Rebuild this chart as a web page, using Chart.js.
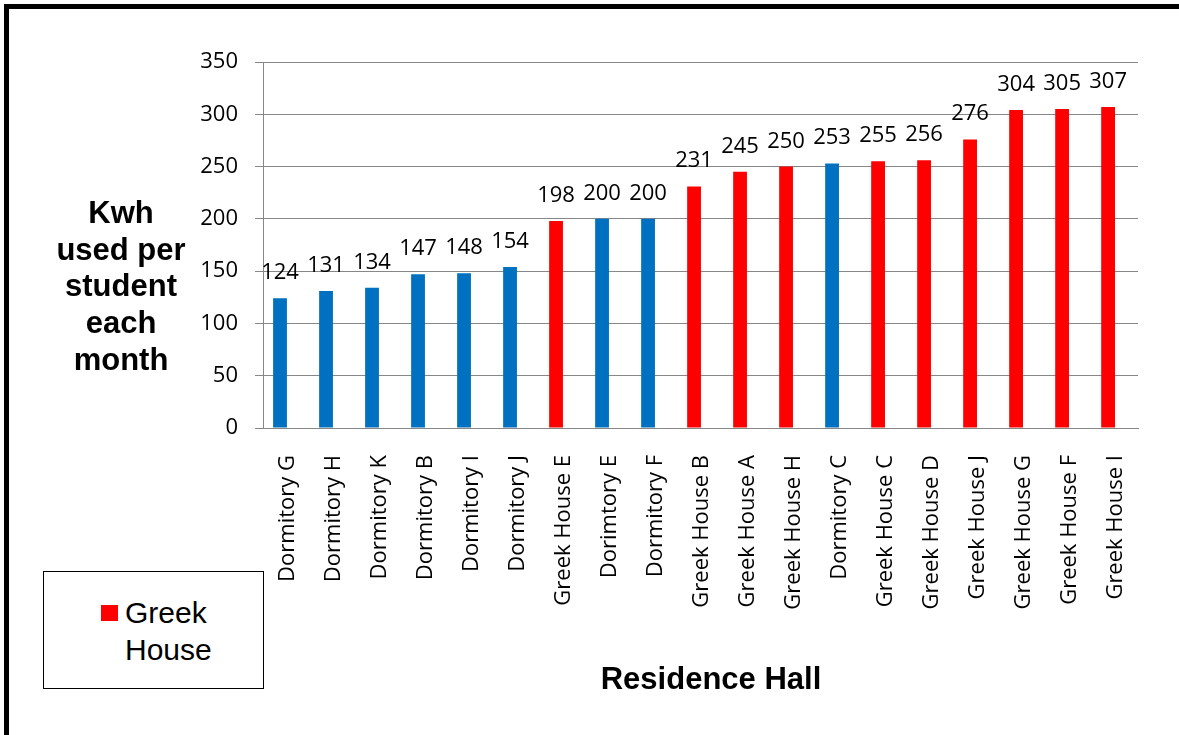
<!DOCTYPE html>
<html>
<head>
<meta charset="utf-8">
<title>Kwh used per student each month by residence hall</title>
<script src="https://cdn.jsdelivr.net/npm/chart.js@4"></script>
<style>
  html, body { margin: 0; padding: 0; background: #fff; }
  body { width: 1179px; height: 735px; position: relative; overflow: hidden; }
  #frame {
    position: absolute; left: 4px; top: 4px; width: 1300px; height: 900px;
    border-top: 5px solid #000; border-left: 5px solid #000; box-sizing: border-box;
  }
  #chart { position: absolute; left: 0; top: 0; }
  .axis-title {
    position: absolute; font-family: "Liberation Sans", Arial, sans-serif;
    font-weight: bold; font-size: 31px; color: #000; text-align: center; white-space: nowrap;
  }
  #yTitle { left: 21px; top: 195px; width: 200px; line-height: 36.7px; }
  #xTitle { left: 561px; top: 661px; width: 300px; line-height: 36px; }
  #legend {
    position: absolute; left: 43px; top: 571px; width: 221px; height: 118px;
    border: 1.5px solid #000; box-sizing: border-box; background: #fff;
  }
  #legend .swatch { position: absolute; left: 57px; top: 33px; width: 17px; height: 16px; background: #ff0000; }
  #legend .label {
    position: absolute; left: 81px; top: 22px; font-family: "Liberation Sans", Arial, sans-serif;
    font-size: 30px; line-height: 37.4px; color: #000;
  }
</style>
</head>
<body>
<div id="frame"></div>
<canvas id="chart" width="1179" height="735"></canvas>
<div id="yTitle" class="axis-title">Kwh<br>used per<br>student<br>each<br>month</div>
<div id="xTitle" class="axis-title">Residence Hall</div>
<div id="legend"><div class="swatch"></div><div class="label">Greek<br>House</div></div>
<script>
// Residence halls, ordered by monthly use
const halls = [
  'Dormitory G', 'Dormitory H', 'Dormitory K', 'Dormitory B', 'Dormitory I',
  'Dormitory J', 'Greek House E', 'Dorimtory E', 'Dormitory F', 'Greek House B',
  'Greek House A', 'Greek House H', 'Dormitory C', 'Greek House C', 'Greek House D',
  'Greek House J', 'Greek House G', 'Greek House F', 'Greek House I'
];

// Kwh used per student each month
const kwh = [124, 131, 134, 147, 148, 154, 198, 200, 200, 231, 245, 250, 253, 255, 256, 276, 304, 305, 307];

// Value axis ticks
const yTicks = [0, 50, 100, 150, 200, 250, 300, 350];

const dormColor = '#0070c0';
const greekColor = '#ff0000';
const gridColor = '#878787';
const tickFont = { family: '"Open Sans", sans-serif', size: 22 };

const isGreek = (name) => name.startsWith('Greek House');

// Writes each hall's value above its bar
const valueLabels = {
  id: 'valueLabels',
  afterDatasetsDraw(chart) {
    const ctx = chart.ctx;
    const meta = chart.getDatasetMeta(0);
    ctx.save();
    ctx.font = '22px "Open Sans", sans-serif';
    ctx.fillStyle = '#000';
    ctx.textAlign = 'center';
    ctx.textBaseline = 'alphabetic';
    meta.data.forEach((bar, i) => {
      ctx.fillText(String(kwh[i]), bar.x, bar.y - 19);
    });
    ctx.restore();
  }
};

function draw() {
  new Chart(document.getElementById('chart'), {
    type: 'bar',
    data: {
      datasets: [{
        label: 'Kwh used per student each month',
        data: kwh.map((v, i) => ({ x: i, y: v })),
        backgroundColor: halls.map(h => isGreek(h) ? greekColor : dormColor),
        borderWidth: 0,
        categoryPercentage: 1,
        barPercentage: 0.3
      }]
    },
    options: {
      responsive: false,
      animation: false,
      events: [],
      layout: { padding: { top: 62, right: 41, left: 0, bottom: 0 } },
      plugins: { legend: { display: false }, tooltip: { enabled: false } },
      scales: {
        x: {
          type: 'linear',
          offset: false,
          min: -0.37,
          max: 18.65,
          grid: { display: false, drawTicks: false, offset: false },
          border: { display: true, color: gridColor, width: 1 },
          afterBuildTicks: (scale) => { scale.ticks = halls.map((_, i) => ({ value: i })); },
          afterFit: (scale) => { scale.height = 307; },
          ticks: {
            autoSkip: false,
            minRotation: 90,
            maxRotation: 90,
            padding: 27,
            labelOffset: 8,
            color: '#000',
            font: tickFont,
            callback: (v) => halls[v]
          }
        },
        y: {
          min: 0,
          max: 350,
          afterBuildTicks: (scale) => { scale.ticks = yTicks.map(v => ({ value: v })); },
          afterFit: (scale) => { scale.width = 263; },
          grid: { color: gridColor, lineWidth: 1, tickLength: 8, drawTicks: true },
          border: { display: true, color: gridColor, width: 1 },
          ticks: { padding: 17, color: '#000', font: tickFont }
        }
      }
    },
    plugins: [valueLabels]
  });
}

if (document.fonts && document.fonts.load) {
  Promise.all([
    document.fonts.load('22px "Open Sans"'),
    document.fonts.load('bold 31px "Liberation Sans"')
  ]).then(draw, draw);
} else {
  draw();
}
</script>
</body>
</html>
